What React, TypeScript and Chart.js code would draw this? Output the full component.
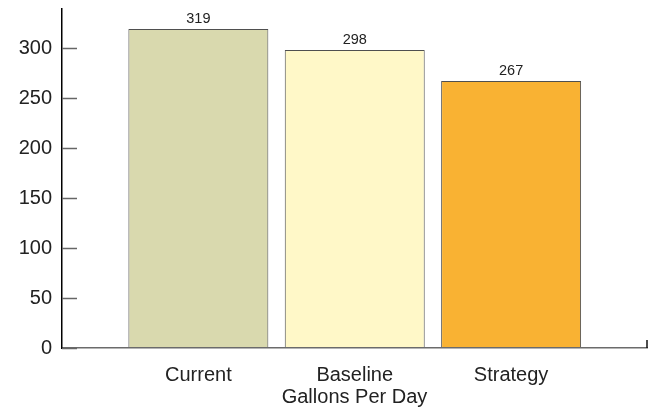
import React, { useEffect, useRef } from "react";
import { Chart, registerables } from "chart.js";

Chart.register(...registerables);

// Daily water use by scenario
const categories = ["Current", "Baseline", "Strategy"];
const gallonsPerDay = [319, 298, 267];
const barColors = ["#d9d9ae", "#fff8c8", "#f9b233"];
const yTickValues = [0, 50, 100, 150, 200, 250, 300];
const xTitle = "Gallons Per Day";

const FONT = "'Liberation Sans', Arial, Helvetica, sans-serif";
const TEXT = "#222222";

// Inward y tick marks, the small end mark on the x axis and value labels on the bars
const decorations = {
  id: "decorations",
  afterDraw(chart: any) {
    const { ctx, chartArea } = chart;
    const y = chart.scales.y;
    ctx.save();
    ctx.strokeStyle = "#666666";
    ctx.lineWidth = 1.5;
    for (const v of yTickValues) {
      const py = Math.round(y.getPixelForValue(v)) + 0.5;
      ctx.beginPath();
      ctx.moveTo(chartArea.left, py);
      ctx.lineTo(chartArea.left + 15, py);
      ctx.stroke();
    }
    ctx.strokeStyle = "#111111";
    ctx.beginPath();
    ctx.moveTo(chartArea.right, chartArea.bottom - 8);
    ctx.lineTo(chartArea.right, chartArea.bottom);
    ctx.stroke();

    ctx.fillStyle = TEXT;
    ctx.font = `14.5px ${FONT}`;
    ctx.textAlign = "center";
    ctx.textBaseline = "alphabetic";
    const meta = chart.getDatasetMeta(0);
    meta.data.forEach((el: any, i: number) => {
      ctx.fillText(String(gallonsPerDay[i]), el.x, el.y - 6.5);
    });
    ctx.restore();
  },
};

export default function App() {
  const canvasRef = useRef<HTMLCanvasElement | null>(null);

  useEffect(() => {
    if (!canvasRef.current) return;
    const chart = new Chart(canvasRef.current, {
      type: "bar",
      data: {
        datasets: [
          {
            data: gallonsPerDay.map((v, i) => ({ x: i + 1, y: v })),
            backgroundColor: barColors,
            borderColor: "#4f4f4f",
            borderWidth: 1,
            borderSkipped: false,
            barPercentage: 0.895,
            categoryPercentage: 1,
          },
        ],
      },
      options: {
        animation: false,
        responsive: true,
        maintainAspectRatio: false,
        layout: { padding: { top: 9, right: 10, left: 0, bottom: 0 } },
        plugins: { legend: { display: false }, tooltip: { enabled: false } },
        scales: {
          x: {
            type: "linear",
            offset: false,
            min: 0.128,
            max: 3.869,
            grid: { display: false, drawTicks: false, offset: false },
            border: { display: true, color: "#6b6b6b", width: 1.5, z: 1 },
            afterBuildTicks: (s: any) => {
              s.ticks = categories.map((_, i) => ({ value: i + 1 }));
            },
            afterFit: (s: any) => {
              s.height = 64;
              s.paddingLeft = 0;
              s.paddingRight = 0;
            },
            ticks: {
              autoSkip: false,
              maxRotation: 0,
              padding: 15,
              color: TEXT,
              font: { family: FONT, size: 20 },
              callback: (v: any) => categories[Math.round(Number(v)) - 1] ?? "",
            },
            title: {
              display: true,
              text: xTitle,
              color: TEXT,
              font: { family: FONT, size: 20 },
              padding: { top: 0, bottom: 3 },
            },
          },
          y: {
            min: 0,
            max: 339,
            grid: { display: false, drawTicks: false },
            border: { display: true, color: "#000000", width: 1.5, z: 1 },
            afterBuildTicks: (s: any) => {
              s.ticks = yTickValues.map((v) => ({ value: v }));
            },
            afterFit: (s: any) => {
              s.width = 62;
              s.paddingTop = 0;
              s.paddingBottom = 0;
            },
            ticks: {
              padding: 10,
              color: TEXT,
              font: { family: FONT, size: 20 },
            },
          },
        },
      },
      plugins: [decorations],
    } as any);
    return () => chart.destroy();
  }, []);

  return (
    <div style={{ position: "absolute", left: 0, top: 0, width: 657, height: 412, background: "#ffffff" }}>
      <canvas ref={canvasRef} />
    </div>
  );
}
